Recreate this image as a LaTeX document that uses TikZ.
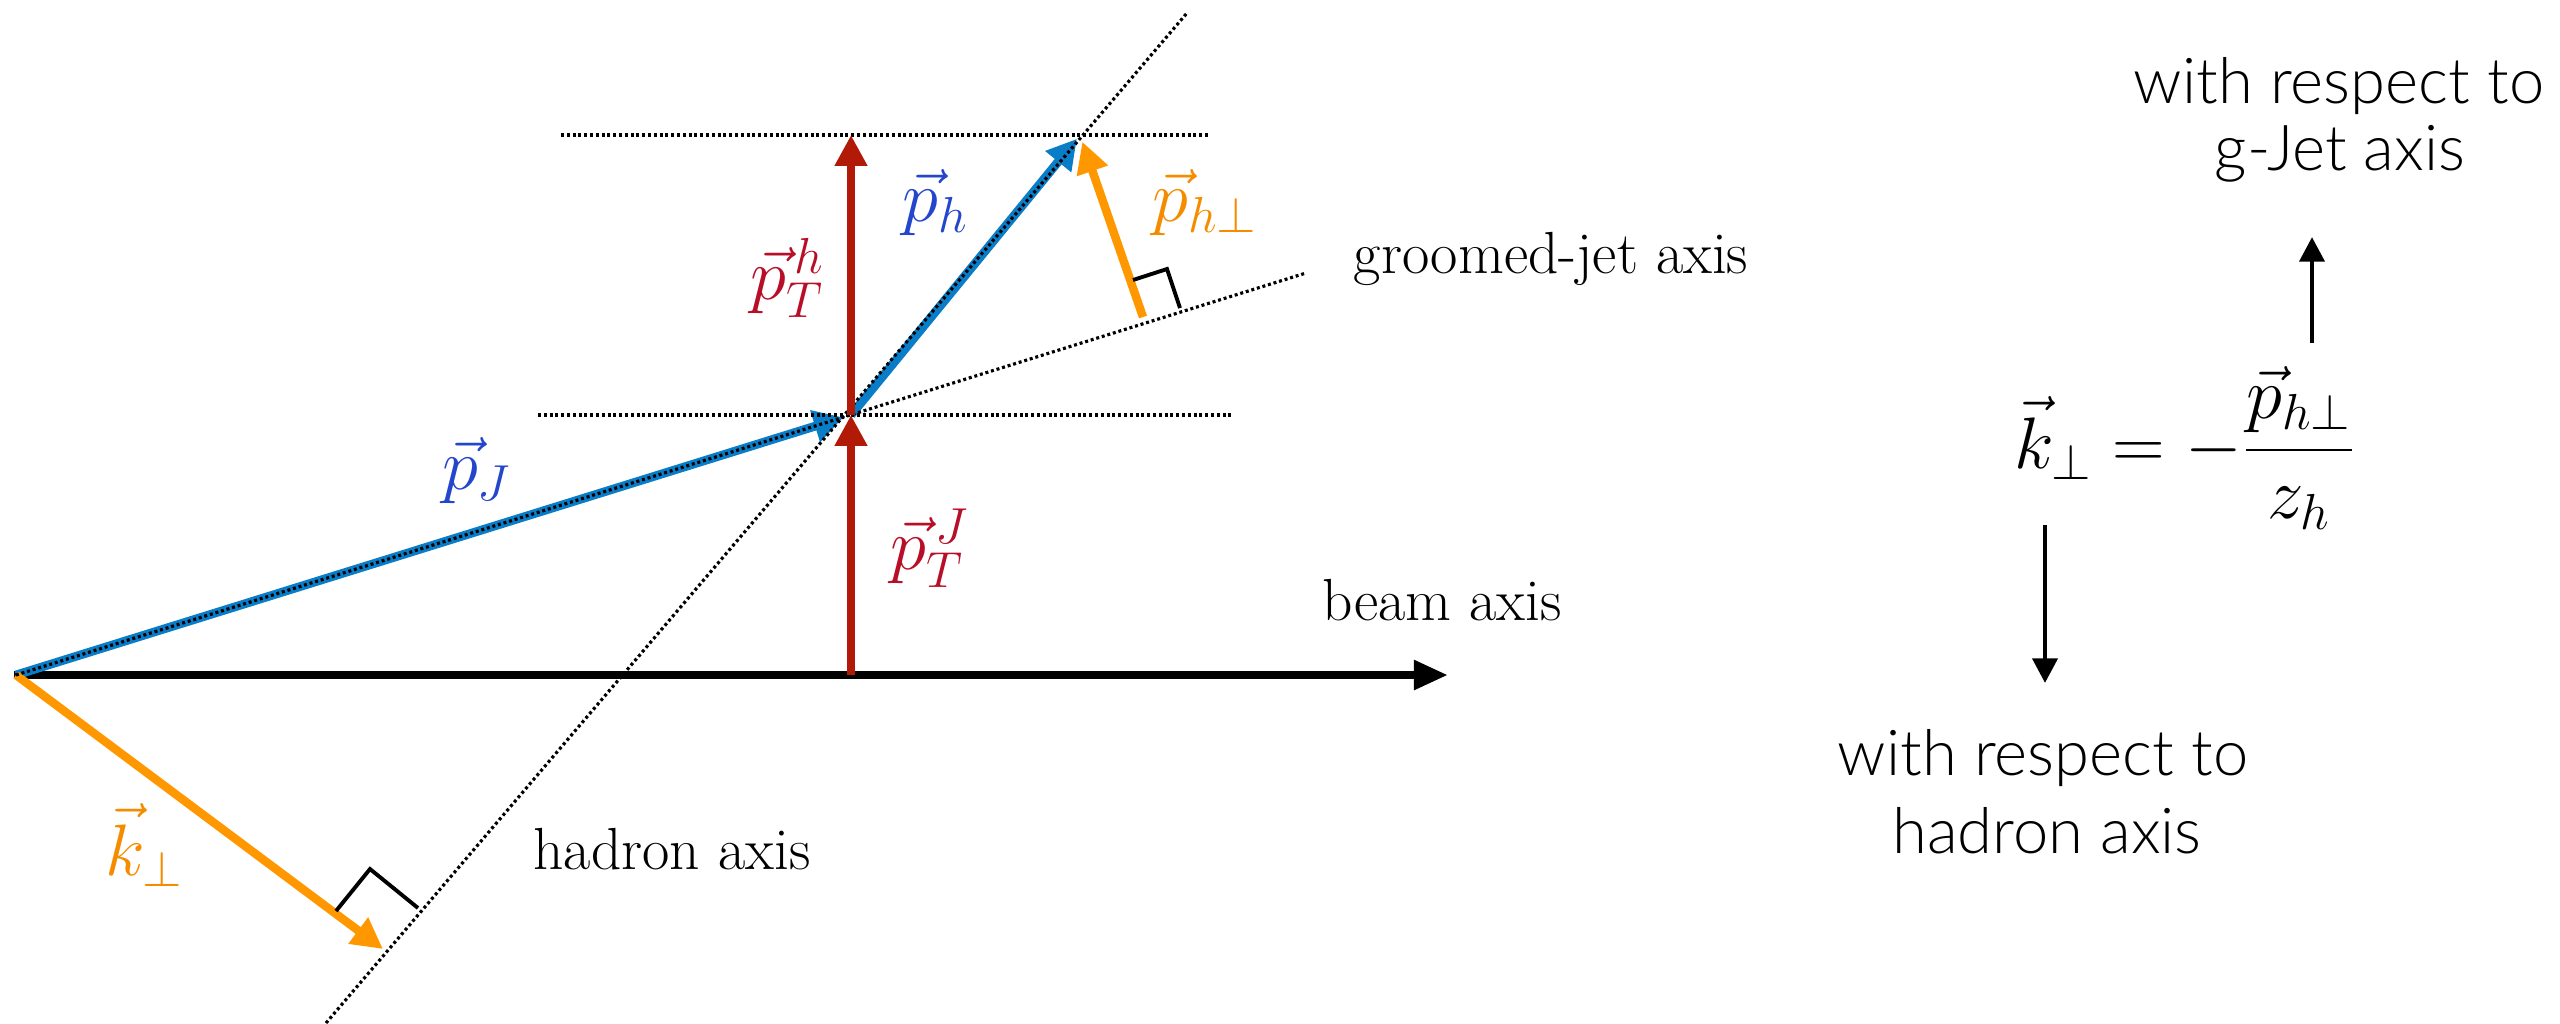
\documentclass[tikz,border=0pt]{standalone}
\usepackage{fontspec}
\setsansfont{Lato}[UprightFont={* Light}]
\usetikzlibrary{arrows.meta}
\definecolor{arrred}{HTML}{B21A08}
\definecolor{txtred}{HTML}{B80F28}
\definecolor{arrblue}{HTML}{0A7DC8}
\definecolor{txtblue}{HTML}{2346CD}
\definecolor{arrorange}{HTML}{FF9800}
\definecolor{txtorange}{HTML}{F58C00}
\tikzset{
  dotline/.style={line width=0.9pt, dash pattern=on 0.85pt off 0.8pt},
  redvec/.style={draw=arrred, line width=2.2pt, -{Triangle[length=8.8pt,width=8.8pt]}},
  bluevec/.style={draw=arrblue, line width=2.5pt, -{Triangle[length=8.4pt,width=9pt]}},
  orangevec/.style={draw=arrorange, line width=2.4pt, -{Triangle[length=8.8pt,width=8.8pt]}},
  beamvec/.style={draw=black, line width=2.3pt, -{Triangle[length=9.7pt,width=8pt]}},
  rightangle/.style={draw=black, line width=1.1pt},
  smallarrow/.style={draw=black, line width=1.4pt, -{Triangle[length=7pt,width=7pt]}},
  mathlbl/.style={font=\fontsize{22.5}{27}\selectfont, inner sep=0pt},
  seriflbl/.style={font=\fontsize{16.9}{20}\selectfont, inner sep=0pt, anchor=base},
  sanslbl/.style={font=\sffamily\fontsize{18}{21}\selectfont, inner sep=0pt, anchor=base},
}
\begin{document}
\begin{tikzpicture}[x=0.01cm,y=-0.01cm]
\useasboundingbox (0,0) rectangle (2560,1023);
% key points
\coordinate (O) at (16,675);
\coordinate (BS) at (14,675);
\coordinate (BE) at (1448,675);
\coordinate (J1) at (851,415);
\coordinate (J2) at (1080,135);
\coordinate (B0) at (851,675);
\coordinate (K) at (383,949);
\coordinate (F) at (1143,317);
\coordinate (H1) at (326,1023);
\coordinate (H2) at (1187,13);
\coordinate (G2) at (1306,273);
\coordinate (L1) at (538,415);
\coordinate (L2) at (1232,415);
\coordinate (U1) at (561,135);
\coordinate (U2) at (1208,135);
% beam axis
\draw[beamvec] (BS) -- (BE);
% blue vectors
\draw[bluevec, shorten >=2.3pt] (O) -- (J1);
\draw[bluevec, shorten >=1.4pt] (J1) -- (J2);
% orange vectors
\draw[orangevec] (O) -- (K);
\draw[orangevec, shorten >=2pt] (F) -- (J2);
% dotted axes
\draw[dotline] (L1) -- (L2);
\draw[dotline] (U1) -- (U2);
\draw[dotline] (O) -- (G2);
\draw[dotline] (H1) -- (H2);
% red vectors
\draw[redvec] (B0) -- (J1);
\draw[redvec] (J1) -- (J2 -| J1);
% right angle marks
\coordinate (RA1) at (336,911);
\coordinate (RA2) at (370,869);
\coordinate (RA3) at (418,908);
\draw[rightangle] (RA1) -- (RA2) -- (RA3);
\coordinate (RB1) at (1133,280);
\coordinate (RB2) at (1167,269);
\coordinate (RB3) at (1180,308);
\draw[rightangle] (RB1) -- (RB2) -- (RB3);
% labels
\node[mathlbl, text=txtblue] (lpJ) at (477,471) {$\vec{p}_J$};
\node[mathlbl, text=txtblue] (lph) at (936,203) {$\vec{p}_h$};
\node[mathlbl, text=txtorange] (lphp) at (1205,203) {$\vec{p}_{h\perp}$};
\node[mathlbl, text=txtorange] (lk) at (145,845) {$\vec{k}_\perp$};
\node[mathlbl, text=txtred] (lpTh) at (788,278) {$\vec{p}_T^{\,h}$};
\node[mathlbl, text=txtred] (lpTJ) at (930,548) {$\vec{p}_T^{\,J}$};
\node[seriflbl] (lgj) at (1551,273) {groomed-jet axis};
\node[seriflbl] (lbeam) at (1442,620) {beam axis};
\node[seriflbl] (lhad) at (672,869) {hadron axis};
% right side
\node[font=\fontsize{20.5}{24}\selectfont, inner sep=0pt] (eq) at (2185,448)
  {$\displaystyle \vec{k}_\perp = -\frac{\vec{p}_{h\perp}}{z_h}$};
\node[sanslbl] (t1) at (2339,103) {with respect to};
\node[sanslbl] (t2) at (2340,170) {g-Jet axis};
\node[sanslbl] (t3) at (2043,775) {with respect to};
\node[sanslbl] (t4) at (2047,853) {hadron axis};
\coordinate (UA1) at (2312,343);
\coordinate (UA2) at (2312,237);
\coordinate (DA1) at (2045,525);
\coordinate (DA2) at (2045,683);
\draw[smallarrow] (UA1) -- (UA2);
\draw[smallarrow] (DA1) -- (DA2);
\end{tikzpicture}
\end{document}
